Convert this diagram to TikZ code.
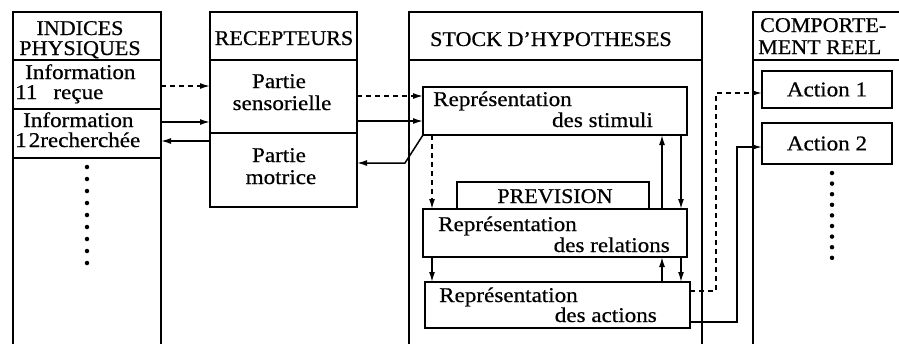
\documentclass[tikz,border=0pt]{standalone}
\usepackage{fontspec}
\setmainfont{Liberation Serif}[FakeStretch=1.1,FakeBold=0.6]
\newfontfamily\capsfont{Liberation Serif}[FakeStretch=1.05,FakeBold=0.6]
\usetikzlibrary{arrows.meta}
\begin{document}
\begin{tikzpicture}[x=1pt,y=-1pt,
  box/.style={draw,line width=1.5pt,rectangle,inner sep=0pt,outer sep=0pt,anchor=north west},
  txt/.style={inner sep=0pt,font=\fontsize{21}{22}\selectfont},
  captxt/.style={inner sep=0pt,font=\capsfont\fontsize{21}{22}\selectfont},
  conn/.style={line width=1.5pt,-{Latex[length=10pt,width=6pt]}},
  dconn/.style={conn,dash pattern=on 5pt off 4pt},
  frame/.style={line width=1.5pt},
  dotmark/.style={circle,fill,inner sep=0pt,minimum size=4.5pt}
]
\useasboundingbox (0,0) rectangle (899,346);

% ---- column 1: INDICES PHYSIQUES
\node[box,minimum width=148pt,minimum height=48pt] (indh) at (13,12) {};
\node[box,minimum width=148pt,minimum height=49pt] (r11) at (13,60) {};
\node[box,minimum width=148pt,minimum height=49pt] (r12) at (13,109) {};
\draw[frame] (r12.south west) -- ++(0,186);
\draw[frame] (r12.south east) -- ++(0,186);
\node[captxt,anchor=base] (t1) at (80,35) {INDICES};
\node[captxt,anchor=base] (t2) at (80,55) {PHYSIQUES};
\node[txt,anchor=base west] (t3) at (25,79) {Information};
\node[txt,anchor=base west] (t4) at (15,99) {11\hspace{16pt}reçue};
\node[txt,anchor=base west] (t5) at (23,127) {Information};
\node[txt,anchor=base west] (t6) at (15,147) {1\hspace{2pt}2recherchée};
\foreach \i in {0,...,8} \node[dotmark] (dl\i) at (87,{167+12*\i}) {};

% ---- column 2: RECEPTEURS
\node[box,minimum width=147pt,minimum height=48pt] (rech) at (210,12) {};
\node[box,minimum width=147pt,minimum height=73pt] (sens) at (210,60) {};
\node[box,minimum width=147pt,minimum height=74pt] (mot) at (210,133) {};
\node[captxt,anchor=base] (t7) at (284,45) {RECEPTEURS};
\node[txt,anchor=base] (t8) at (279,88) {Partie};
\node[txt,anchor=base] (t9) at (282,110) {sensorielle};
\node[txt,anchor=base] (t10) at (279,162) {Partie};
\node[txt,anchor=base] (t11) at (281,184) {motrice};

% ---- column 3: STOCK D'HYPOTHESES
\node[box,minimum width=293pt,minimum height=48pt] (stoh) at (409,12) {};
\draw[frame] (stoh.south west) -- ++(0,284);
\draw[frame] (stoh.south east) -- ++(0,284);
\node[captxt,anchor=base] (t12) at (551,46) {STOCK D’HYPOTHESES};
\node[box,minimum width=264pt,minimum height=48pt] (stim) at (423,87) {};
\node[box,minimum width=192pt,minimum height=27pt] (prev) at (457,182) {};
\node[box,minimum width=264pt,minimum height=48pt] (rel) at (423,209) {};
\node[box,minimum width=265pt,minimum height=46pt] (act) at (425,282) {};
\node[txt,anchor=base west] (t13) at (433,106) {Représentation};
\node[txt,anchor=base east] (t14) at (653,127) {des stimuli};
\node[captxt,anchor=base] (t15) at (555,203) {PREVISION};
\node[txt,anchor=base west] (t16) at (438,231) {Représentation};
\node[txt,anchor=base east] (t17) at (670,252) {des relations};
\node[txt,anchor=base west] (t18) at (439,302) {Représentation};
\node[txt,anchor=base east] (t19) at (657,322) {des actions};

% ---- column 4: COMPORTEMENT REEL
\draw[frame] (753,344) -- (753,12) -- (899,12);
\draw[frame] (753,60) -- (899,60);
\node[captxt,anchor=base west] (t20) at (760,32) {COMPORTE-};
\node[captxt,anchor=base west] (t21) at (758,54) {MENT REEL};
\node[box,minimum width=130pt,minimum height=37pt,font=\fontsize{21}{22}\selectfont] (a1) at (762,71) {Action 1};
\node[box,minimum width=130pt,minimum height=41pt,font=\fontsize{21}{22}\selectfont] (a2) at (762,123) {Action 2};
\foreach \i in {0,...,8} \node[dotmark] (dr\i) at (832,{173+10.6*\i}) {};

% ---- connectors
\draw[dconn] (r11.east |- 0,86) -- (sens.west |- 0,86);
\draw[conn] (r12.east |- 0,122) -- (sens.west |- 0,122);
\draw[conn] (mot.west |- 0,141) -- (r12.east |- 0,141);
\draw[dconn] (sens.east |- 0,96) -- (stim.west |- 0,96);
\draw[conn] (sens.east |- 0,121) -- (stim.west |- 0,121);
\draw[conn] (stim.south west) -- ++(-18,28) -- (mot.east |- 0,163);
\draw[dconn] (stim.south -| 432,0) -- (rel.north -| 432,0);
\draw[conn] (rel.north -| 662,0) -- (stim.south -| 662,0);
\draw[conn] (stim.south -| 681,0) -- (rel.north -| 681,0);
\draw[conn] (rel.south -| 432,0) -- (act.north -| 432,0);
\draw[conn] (act.north -| 662,0) -- (rel.south -| 662,0);
\draw[conn] (rel.south -| 681,0) -- (act.north -| 681,0);
\draw[dconn] (act.east |- 0,291) -- (716,291) -- (716,93) -- (a1.west |- 0,93);
\draw[conn] (act.east |- 0,322) -- (737,322) -- (737,147) -- (a2.west |- 0,147);
\end{tikzpicture}
\end{document}
